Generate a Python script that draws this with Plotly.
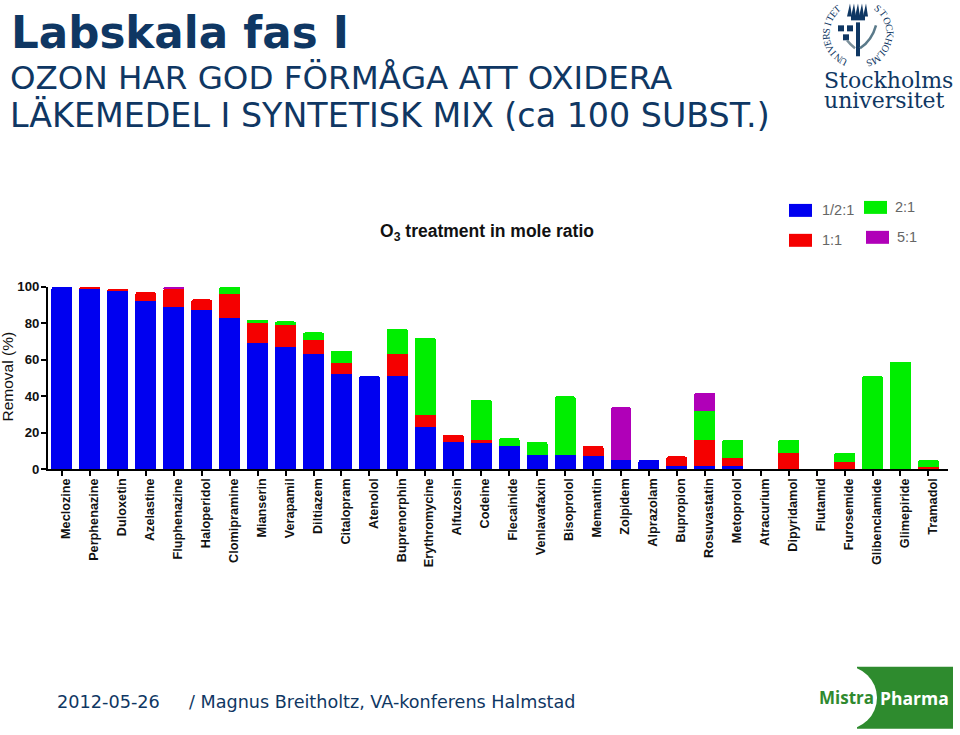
import math
import plotly.graph_objects as go

categories = ["Meclozine","Perphenazine","Duloxetin","Azelastine","Fluphenazine","Haloperidol","Clomipramine","Mianserin","Verapamil","Diltiazem","Citalopram","Atenolol","Buprenorphin","Erythromycine","Alfuzosin","Codeine","Flecainide","Venlavafaxin","Bisoprolol","Memantin","Zolpidem","Alprazolam","Bupropion","Rosuvastatin","Metoprolol","Atracurium","Dipyridamol","Flutamid","Furosemide","Glibenclamide","Glimepiride","Tramadol"]
ratio_half = [100,99,98,92,89,87.5,83,69,67,63,52,51,51,23,15,15,13,8,8,7,5,5,2,2,2,0,0,0,0,0,0,0]
ratio_one = [0,1,1,5,10,5.5,13,11,12,8,6,0,12,7,4,1,0,0,0,6,0,0,5,14,4,0,9,0,4,0,0,1]
ratio_two = [0,0,0,0,0,0,4,2,2,4,7,0,14,42,0,22,4,7,32,0,0,0,0,16,10,0,7,0,5,51,59,4]
ratio_five = [0,0,0,0,0.5,0,0,0,0,0,0,0,0,0,0,0,0,0,0,0,29,0,0,10,0,0,0,0,0,0,0,0]
y_ticks = [0,20,40,60,80,100]

W, H = 960, 735
NAVY = "#0f3763"
BLUE, RED, GREEN, PURPLE = "#0000f0", "#f50000", "#00ee00", "#b000b8"

def px(x): return x / W
def py(y): return 1 - ((y - 6.6) / 0.982) / H

fig = go.Figure()
for name, vals, col in [("1/2:1", ratio_half, BLUE), ("1:1", ratio_one, RED), ("2:1", ratio_two, GREEN), ("5:1", ratio_five, PURPLE)]:
    fig.add_bar(x=categories, y=vals, name=name, marker=dict(color=col, line_width=0), width=0.75, showlegend=False)

annotations = []
def text(x, y, s, size, color="#000", font="Liberation Sans", anchor="left", bold=False, angle=0, yanchor="middle"):
    annotations.append(dict(xref="paper", yref="paper", x=px(x), y=py(y), text=("<b>%s</b>" % s) if bold else s,
        showarrow=False, xanchor=anchor, yanchor=yanchor, textangle=angle, borderpad=0, borderwidth=0,
        font=dict(size=size, color=color, family=font)))

text(11, 33, "Labskala fas I", 43.6, NAVY, "DejaVu Sans", bold=True)
text(10, 78, "OZON HAR GOD FÖRMÅGA ATT OXIDERA", 32.5, NAVY, "DejaVu Sans")
text(10, 115, "LÄKEMEDEL I SYNTETISK MIX (ca 100 SUBST.)", 33.3, NAVY, "DejaVu Sans")
text(380, 233, "O<sub>3</sub> treatment in mole ratio", 17.5, "#111", bold=True)
text(7, 377, "Removal (%)", 15.5, "#111", anchor="center", angle=-90)
text(57, 703, "2012-05-26", 17.7, NAVY, "DejaVu Sans")
text(189, 703, "/ Magnus Breitholtz, VA-konferens Halmstad", 17.6, NAVY, "DejaVu Sans")
for x, y, s in [(822, 210, "1/2:1"), (895, 207, "2:1"), (822, 240, "1:1"), (897, 237, "5:1")]:
    text(x, y, s, 14.5, "#666")

text(824, 80, "Stockholms", 22, NAVY, "DejaVu Serif")
text(824, 100, "universitet", 22, NAVY, "DejaVu Serif")
text(819, 699, "Mistra", 17, "#2f8a2f", "Open Sans", bold=True)
text(880, 699, "Pharma", 17.5, "#ffffff", "Open Sans", bold=True)

seal_left = "UNIVERSITET"
seal_right = "STOCKHOLMS"
cx, cy, r = 858, 33, 32
for i, ch in enumerate(seal_left):
    deg = 208 + i * 11.2
    a = math.radians(deg)
    text(cx + r * math.sin(a), cy - r * math.cos(a), ch, 10, NAVY, "Liberation Serif", anchor="center", angle=deg - 360)
for i, ch in enumerate(seal_right):
    deg = 39 + i * 13.4
    a = math.radians(deg)
    text(cx + r * math.sin(a), cy - r * math.cos(a), ch, 10, NAVY, "Liberation Serif", anchor="center", angle=deg)

shapes = []
def rect(x0, y0, x1, y1, color):
    shapes.append(dict(type="rect", xref="paper", yref="paper", x0=px(x0), x1=px(x1), y0=py(y0), y1=py(y1),
                       fillcolor=color, line_width=0, layer="below"))
for x0, y0, col in [(789, 204, BLUE), (864, 201, GREEN), (789, 234, RED), (866, 231, PURPLE)]:
    rect(x0, y0, x0 + 23, y0 + 13, col)

# Stockholm University seal emblem
rect(856, 22, 860, 56, NAVY)
rect(851, 15, 865, 20, NAVY)
for x in (849, 853, 857, 861, 865):
    shapes.append(dict(type="path", xref="paper", yref="paper", line_width=0, fillcolor=NAVY,
        path=f"M {px(x-2)},{py(16)} L {px(x+1)},{py(3)} L {px(x+3)},{py(16)} Z"))
for x, y in [(841, 25), (850, 25), (846, 34)]:
    rect(x - 3, y, x + 3, y + 6, NAVY)
shapes.append(dict(type="path", xref="paper", yref="paper", line=dict(color="#5a7a8a", width=2.5),
    path=f"M {px(860)},{py(48)} Q {px(872)},{py(40)} {px(876)},{py(25)}"))
shapes.append(dict(type="path", xref="paper", yref="paper", line=dict(color="#7a8f9a", width=2.5),
    path=f"M {px(855)},{py(48)} Q {px(850)},{py(44)} {px(847)},{py(40)}"))

# Mistra Pharma logo
rect(857, 668, 953, 730, "#2e8b2e")
shapes.append(dict(type="circle", xref="paper", yref="paper", x0=px(812), x1=px(877), y0=py(667), y1=py(731),
                   fillcolor="#ffffff", line_width=0, layer="below"))

fig.update_layout(
    width=W, height=H, margin=dict(l=0, r=0, t=0, b=0), autosize=False,
    paper_bgcolor="#fff", plot_bgcolor="#fff", barmode="stack", barcornerradius=2,
    annotations=annotations, shapes=shapes, bargap=0.25,
    xaxis=dict(domain=[px(48), px(948)], range=[-0.5, 31.7], type="category", showgrid=False,
               showline=True, linecolor="#000", linewidth=2, ticks="outside", ticklen=5, tickwidth=2, tickcolor="#000",
               tickangle=-90, tickfont=dict(family="Liberation Sans", size=12.7, color="#111", weight=700),
               ticklabelshift=4, ticklabelstandoff=-3, anchor="y", zeroline=False),
    yaxis=dict(domain=[py(470), py(287)], range=[0, 100], tickvals=y_ticks, showgrid=False,
               showline=True, linecolor="#000", linewidth=2, ticks="outside", ticklen=5, tickwidth=2, tickcolor="#000",
               tickfont=dict(family="Liberation Sans", size=13.2, color="#111", weight=700),
               ticklabelstandoff=-1, zeroline=False, anchor="x"),
)
fig.write_html("out.html", config=dict(displayModeBar=False),
               post_script="document.body.style.margin='0';document.documentElement.style.overflow='hidden';")
